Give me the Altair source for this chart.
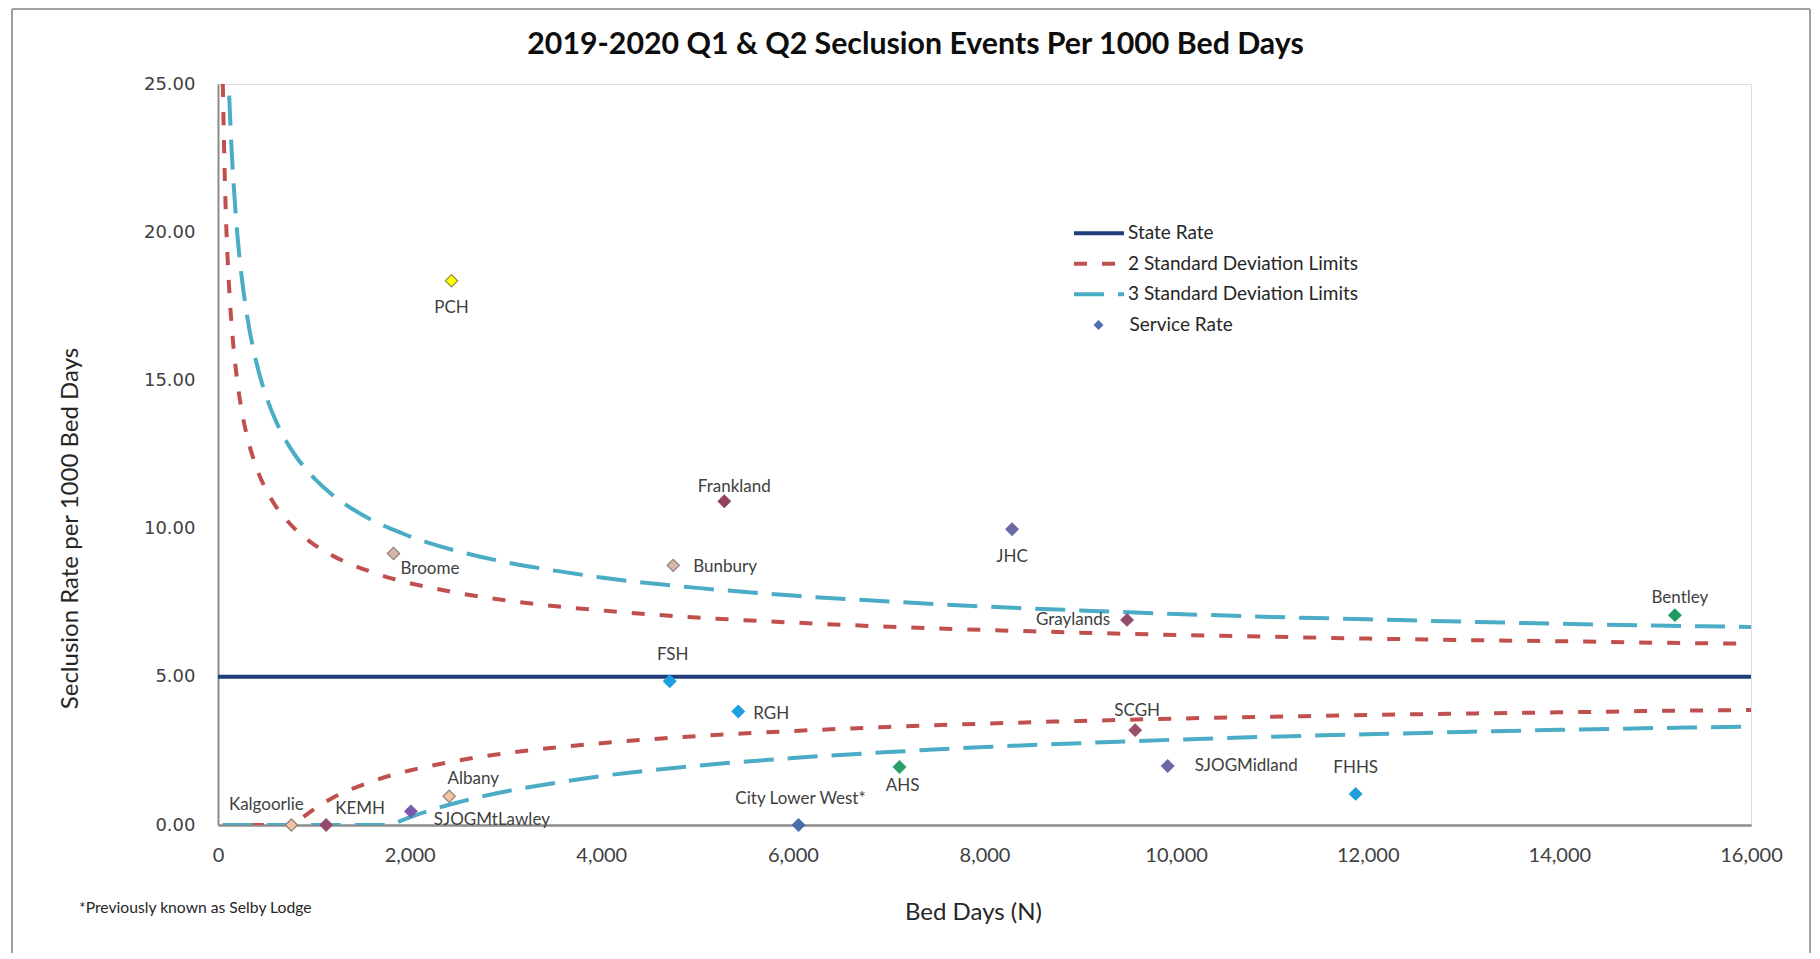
import altair as alt
import pandas as pd

# ---------------- data ----------------
services = ["PCH", "Broome", "Bunbury", "Frankland", "JHC", "Graylands", "Bentley",
            "FSH", "RGH", "SCGH", "SJOGMidland", "FHHS", "AHS", "Albany",
            "SJOGMtLawley", "Kalgoorlie", "KEMH", "City Lower West*"]
bed_days = [2437, 1832, 4751, 5284, 8288, 9488, 15206,
            4715, 5430, 9573, 9912, 11874, 7113, 2413,
            2013, 766, 1129, 6059]
service_rate = [18.36, 9.16, 8.76, 10.92, 9.98, 6.92, 7.08,
                4.85, 3.83, 3.20, 1.99, 1.05, 1.96, 0.97,
                0.46, 0.00, 0.00, 0.00]
fill_colors = ["#FFFF00", "#D9B5A8", "#D9B5A8", "#944262", "#6B68A6", "#944A6A", "#1F9B62",
               "#1E9FE0", "#1E9FE0", "#985068", "#6B69A6", "#1FA0DC", "#2A9E68", "#F3C4A2",
               "#7B5AAE", "#F3C0A0", "#944A6A", "#4A6DB0"]
stroke_colors = ["#8C8A3A", "#8A7F7C", "#8A7F7C", "#944262", "#6B68A6", "#944A6A", "#1F9B62",
                 "#1E9FE0", "#1E9FE0", "#985068", "#6B69A6", "#1FA0DC", "#2A9E68", "#8A7F7C",
                 "#7B5AAE", "#8A7F7C", "#944A6A", "#4A6DB0"]

state_rate_n = [0, 16000]
state_rate = [5.00, 5.00]

limit_n = [50, 75, 100, 125, 150, 200, 250, 300, 400, 500, 600, 700, 800, 900, 1000,
           1200, 1400, 1600, 1800, 1900, 2000, 2200, 2500, 3000, 3500, 4000, 5000, 6000,
           7000, 8000, 9000, 10000, 11000, 12000, 13000, 14000, 15000, 16000]
upper_2sd = [25.00, 21.33, 19.14, 17.65, 16.55, 15.00, 13.94, 13.16, 12.07, 11.32, 10.77,
             10.35, 10.00, 9.71, 9.47, 9.08, 8.78, 8.54, 8.33, 8.24, 8.16, 8.02, 7.83, 7.58,
             7.39, 7.24, 7.00, 6.83, 6.69, 6.58, 6.49, 6.41, 6.35, 6.29, 6.24, 6.20, 6.15, 6.12]
lower_2sd = [0.00, 0.00, 0.00, 0.00, 0.00, 0.00, 0.00, 0.00, 0.00, 0.00, 0.00,
             0.00, 0.00, 0.29, 0.53, 0.92, 1.22, 1.46, 1.67, 1.76, 1.84, 1.98, 2.17, 2.42,
             2.61, 2.76, 3.00, 3.17, 3.31, 3.42, 3.51, 3.59, 3.65, 3.71, 3.76, 3.80, 3.85, 3.88]
upper_3sd = [35.00, 29.49, 26.21, 23.97, 22.32, 20.00, 18.42, 17.25, 15.61, 14.49, 13.66,
             13.02, 12.50, 12.07, 11.71, 11.12, 10.67, 10.30, 10.00, 9.87, 9.74, 9.52, 9.24, 8.87,
             8.59, 8.35, 8.00, 7.74, 7.54, 7.37, 7.24, 7.12, 7.02, 6.94, 6.86, 6.79, 6.73, 6.68]
lower_3sd = [0.00, 0.00, 0.00, 0.00, 0.00, 0.00, 0.00, 0.00, 0.00, 0.00, 0.00,
             0.00, 0.00, 0.00, 0.00, 0.00, 0.00, 0.00, 0.00, 0.13, 0.26, 0.48, 0.76, 1.13,
             1.41, 1.65, 2.00, 2.26, 2.46, 2.63, 2.76, 2.88, 2.98, 3.06, 3.14, 3.21, 3.27, 3.32]

series_names = ["State Rate", "2 Standard Deviation Limits", "3 Standard Deviation Limits"]
series_colors = ["#203F7A", "#C0504D", "#4BACC6"]
series_dashes = [[1, 0], [13, 15], [30, 14]]

x_ticks = [0, 2000, 4000, 6000, 8000, 10000, 12000, 14000, 16000]
y_ticks = [0, 5, 10, 15, 20, 25]

title_text = "2019-2020 Q1 & Q2 Seclusion Events Per 1000 Bed Days"
x_title = "Bed Days (N)"
y_title = "Seclusion Rate per 1000 Bed Days"
footnote = "*Previously known as Selby Lodge"

# label placement style (pixel offsets, alignment)
label_style = {
    "PCH": (0, 27, "center"), "Broome": (7, 16, "left"), "Bunbury": (20, 2, "left"),
    "Frankland": (10, -14, "center"), "JHC": (0, 28, "center"), "Graylands": (-17, 0, "right"),
    "Bentley": (5, -17, "center"), "FSH": (3, -26, "center"), "RGH": (15, 3, "left"),
    "SCGH": (2, -19, "center"), "SJOGMidland": (27, 0, "left"), "FHHS": (0, -26, "center"),
    "AHS": (3, 19, "center"), "Albany": (24, -17, "center"), "SJOGMtLawley": (23, 9, "left"),
    "Kalgoorlie": (-25, -20, "center"), "KEMH": (9, -16, "left"),
    "City Lower West*": (2, -26, "center"),
}

# ---------------- tables ----------------
rows = []
for n, v in zip(state_rate_n, state_rate):
    rows.append({"N": n, "value": v, "series": series_names[0], "part": "state"})
for n, u, l in zip(limit_n, upper_2sd, lower_2sd):
    rows.append({"N": n, "value": u, "series": series_names[1], "part": "u2"})
    rows.append({"N": n, "value": l, "series": series_names[1], "part": "l2"})
for n, u, l in zip(limit_n, upper_3sd, lower_3sd):
    rows.append({"N": n, "value": u, "series": series_names[2], "part": "u3"})
    rows.append({"N": n, "value": l, "series": series_names[2], "part": "l3"})
lines_df = pd.DataFrame(rows)

svc_df = pd.DataFrame({
    "name": services, "N": bed_days, "rate": service_rate,
    "fill": fill_colors, "stroke": stroke_colors,
    "kind": ["Service Rate"] * len(services),
})

W, H = 1533, 741
PAD_L, PAD_T = 210, 76
TOTAL_W, TOTAL_H = 1804, 945

x_scale = alt.Scale(domain=[0, 16000], nice=False)
y_scale = alt.Scale(domain=[0, 25], nice=False)

x_axis = alt.Axis(values=x_ticks, format=",.0f", grid=False, ticks=False, labelPadding=20,
                  labelFont="Lato", labelFontSize=20, labelColor="#404040", labelFlush=False,
                  domainColor="#8C8C8C", domainWidth=2.5,
                  title=x_title, titleFont="Lato", titleFontSize=24, titleFontWeight="normal",
                  titleColor="#262626", titleX=755, titleY=87, titleBaseline="middle")
y_axis = alt.Axis(values=y_ticks, format=".2f", grid=False, ticks=False, labelPadding=23,
                  labelFont="DejaVu Sans", labelFontSize=18, labelColor="#404040",
                  labelFlush=False, domainColor="#8C8C8C", domainWidth=2,
                  title=y_title, titleFont="Lato", titleFontSize=24, titleFontWeight="normal",
                  titleColor="#262626", titleX=-148, titleY=444, titleAngle=-90,
                  titleBaseline="middle", titleAlign="center")

line_legend = alt.Legend(title=None, orient="none", legendX=869, legendY=137.3,
                         symbolType="M-2.5,0H2.5", symbolSize=400, symbolStrokeWidth=4,
                         labelFont="Lato", labelFontSize=19, labelColor="#262626",
                         labelOffset=17, rowPadding=8.5, padding=0, labelLimit=500)

lines = alt.Chart(lines_df).mark_line(strokeWidth=4, clip=True, interpolate="monotone").encode(
    x=alt.X("N:Q", scale=x_scale, axis=x_axis),
    y=alt.Y("value:Q", scale=y_scale, axis=y_axis),
    color=alt.Color("series:N", scale=alt.Scale(domain=series_names, range=series_colors),
                    legend=line_legend),
    strokeDash=alt.StrokeDash("series:N", scale=alt.Scale(domain=series_names, range=series_dashes),
                              legend=line_legend),
    detail="part:N",
)

points = alt.Chart(svc_df).mark_point(filled=True, size=150, strokeWidth=1.2, opacity=1).encode(
    x=alt.X("N:Q", scale=x_scale),
    y=alt.Y("rate:Q", scale=y_scale),
    fill=alt.Fill("fill:N", scale=None),
    stroke=alt.Stroke("stroke:N", scale=None),
    shape=alt.Shape("kind:N", scale=alt.Scale(domain=["Service Rate"], range=["diamond"]),
                    legend=alt.Legend(title=None, orient="none", legendX=871, legendY=231.5,
                                      symbolSize=100, symbolFillColor="#4F6DB3",
                                      symbolStrokeColor="#4F6DB3", symbolStrokeWidth=0,
                                      labelFont="Lato", labelFontSize=19, labelColor="#262626",
                                      labelOffset=21.5, padding=0, labelLimit=500)),
)

label_layers = []
for name in services:
    dx, dy, al = label_style[name]
    label_layers.append(
        alt.Chart(svc_df).transform_filter(alt.datum.name == name).mark_text(
            dx=dx, dy=dy, align=al, baseline="middle", font="Lato", fontSize=17,
            color="#404040").encode(
            x=alt.X("N:Q", scale=x_scale), y=alt.Y("rate:Q", scale=y_scale), text="name:N")
    )

one = pd.DataFrame({"t": [footnote]})
foot = alt.Chart(one).mark_text(align="left", baseline="middle", font="Lato", fontSize=15.7,
                                color="#262626").encode(
    x=alt.value(79 - 218), y=alt.value(908 - 84), text="t:N")

border_col = "#A0A0A0"
b_top = alt.Chart(one).mark_rule(color=border_col, strokeWidth=2).encode(
    x=alt.value(-206), x2=alt.value(TOTAL_W - PAD_L - 2), y=alt.value(-75))
b_left = alt.Chart(one).mark_rule(color=border_col, strokeWidth=2).encode(
    x=alt.value(-206), y=alt.value(-75), y2=alt.value(TOTAL_H - PAD_T))
b_right = alt.Chart(one).mark_rule(color=border_col, strokeWidth=2).encode(
    x=alt.value(TOTAL_W - PAD_L - 2), y=alt.value(-75), y2=alt.value(TOTAL_H - PAD_T))

chart = alt.layer(lines, points, *label_layers, foot, b_top, b_left, b_right).properties(
    width=W, height=H,
    title=alt.TitleParams(title_text, font="Lato", fontSize=30.3, fontWeight="bold",
                          color="#0D0D0D", anchor="middle", frame="group", dx=-69, offset=-52.5),
    autosize=alt.AutoSizeParams(type="none"),
    padding={"left": PAD_L, "top": PAD_T, "right": TOTAL_W - PAD_L - W,
             "bottom": TOTAL_H - PAD_T - H},
).resolve_scale(shape="independent").configure_view(stroke=None).configure(background="white")

chart.save("out.html", embed_options={"renderer": "svg", "actions": False})
